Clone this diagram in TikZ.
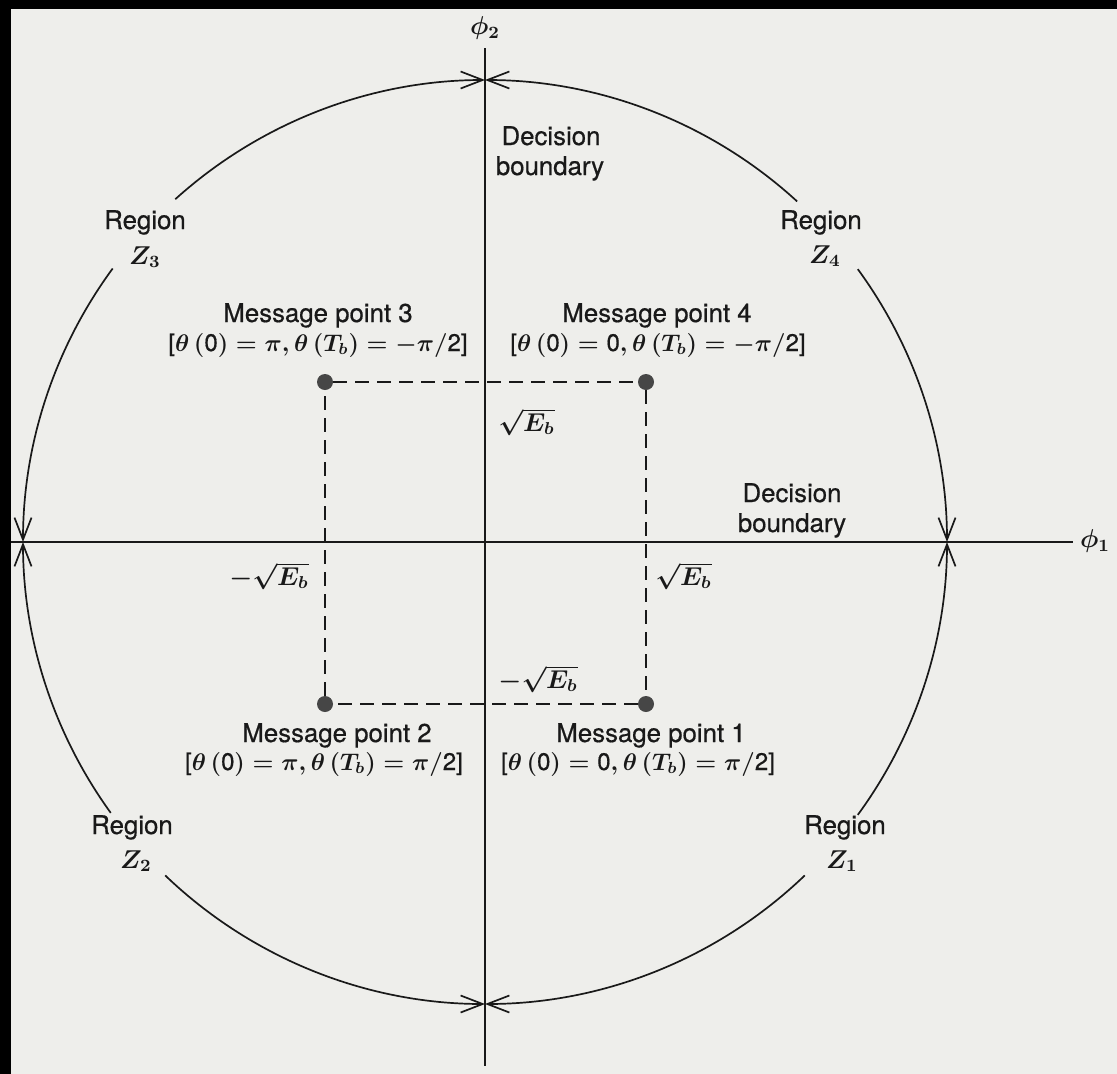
\documentclass[tikz,border=0pt]{standalone}
\usepackage{fontspec}
\setmainfont[FakeBold=0.6]{TeX Gyre Heros}
\usetikzlibrary{arrows.meta,calc}
\definecolor{paper}{RGB}{238,238,235}
\definecolor{ink}{RGB}{25,25,25}
\definecolor{dotc}{RGB}{70,70,70}
\newcommand{\tu}[1]{\textup{#1}}
\begin{document}
\begin{tikzpicture}[x=1pt,y=-1pt,
  lbl/.style={font=\fontsize{12}{14.5}\selectfont\boldmath, scale=2.15, inner sep=0pt, text=ink},
  phase/.style={lbl, scale=0.93, anchor=base},
  axisline/.style={line width=1.8pt, draw=ink},
  bnd/.style={line width=1.7pt, draw=ink, -{Straight Barb[length=22pt,width=17pt,line width=1.7pt]}},
  dsh/.style={line width=2.2pt, draw=ink, dash pattern=on 14pt off 8pt},
  msgdot/.style={circle, fill=dotc, minimum size=16pt, inner sep=0pt}]
\useasboundingbox (0,0) rectangle (1117,1074);
\fill[paper] (0,0) rectangle (1117,1074);
\fill[black] (0,0) rectangle (11,1074);
\fill[black] (0,0) rectangle (1117,9);
% axes
\coordinate (O) at (485,542);
\coordinate (xl) at (11,542);
\coordinate (xr) at (1073,542);
\coordinate (yt) at (485,48);
\coordinate (yb) at (485,1066);
\draw[axisline] (xl) -- (xr);
\draw[axisline] (yt) -- (yb);
\node[lbl] (phi1) at (1095,541) {$\phi_1$};
\node[lbl] (phi2) at (485,28) {$\phi_2$};
% circle arcs with arrows to the axes
\draw[bnd] ($(O)+(-132.1:462)$) arc[start angle=-132.1, end angle=-90, radius=462];
\draw[bnd] ($(O)+(-143.7:462)$) arc[start angle=-143.7, end angle=-180, radius=462];
\draw[bnd] ($(O)+(-215.9:462)$) arc[start angle=-215.9, end angle=-180, radius=462];
\draw[bnd] ($(O)+(-226.2:462)$) arc[start angle=-226.2, end angle=-270, radius=462];
\draw[bnd] ($(O)+(-313.8:462)$) arc[start angle=-313.8, end angle=-270, radius=462];
\draw[bnd] ($(O)+(-323.8:462)$) arc[start angle=-323.8, end angle=-360, radius=462];
\draw[bnd] ($(O)+(-36.2:462)$) arc[start angle=-36.2, end angle=0, radius=462];
\draw[bnd] ($(O)+(-47.5:462)$) arc[start angle=-47.5, end angle=-90, radius=462];
% message points
\node[msgdot] (m3) at (325,382) {};
\node[msgdot] (m4) at (646,382) {};
\node[msgdot] (m1) at (646,704) {};
\node[msgdot] (m2) at (325,704) {};
\draw[dsh] (m3) -- (m4) -- (m1) -- (m2) -- (m3);
% decision boundary labels
\node[lbl, anchor=base] (db1a) at (551,145) {Decision};
\node[lbl, anchor=base] (db1b) at (550,175) {boundary};
\node[lbl, anchor=base] (db2a) at (792,502) {Decision};
\node[lbl, anchor=base] (db2b) at (792,532) {boundary};
% region labels
\node[lbl, anchor=base] (r3a) at (145,229) {Region};
\node[lbl, anchor=base] (r3b) at (145,264) {$Z_3$};
\node[lbl, anchor=base] (r4a) at (821,229) {Region};
\node[lbl, anchor=base] (r4b) at (825,263) {$Z_4$};
\node[lbl, anchor=base] (r2a) at (132,834) {Region};
\node[lbl, anchor=base] (r2b) at (136,868) {$Z_2$};
\node[lbl, anchor=base] (r1a) at (845,834) {Region};
\node[lbl, anchor=base] (r1b) at (842,868) {$Z_1$};
% message point labels
\node[lbl, anchor=base] (p3a) at (318,322) {Message point 3};
\node[phase] (p3b) at (318,351) {[$\theta\,(\tu{0}) = \pi, \theta\,(T_b) = -\pi/\tu{2}$]};
\node[lbl, anchor=base] (p4a) at (657,322) {Message point 4};
\node[phase] (p4b) at (658,351) {[$\theta\,(\tu{0}) = \tu{0}, \theta\,(T_b) = -\pi/\tu{2}$]};
\node[lbl, anchor=base] (p2a) at (337,742) {Message point 2};
\node[phase] (p2b) at (324,770) {[$\theta\,(\tu{0}) = \pi, \theta\,(T_b) = \pi/\tu{2}$]};
\node[lbl, anchor=base] (p1a) at (651,742) {Message point 1};
\node[phase] (p1b) at (638,770) {[$\theta\,(\tu{0}) = \tu{0}, \theta\,(T_b) = \pi/\tu{2}$]};
% coordinate labels
\node[lbl, anchor=west] (etop) at (498,422) {$\sqrt{E_b}$};
\node[lbl, anchor=west] (ebot) at (498,679) {$-\sqrt{E_b}$};
\node[lbl, anchor=east] (eleft) at (309,576) {$-\sqrt{E_b}$};
\node[lbl, anchor=west] (eright) at (655,576) {$\sqrt{E_b}$};
\end{tikzpicture}
\end{document}
